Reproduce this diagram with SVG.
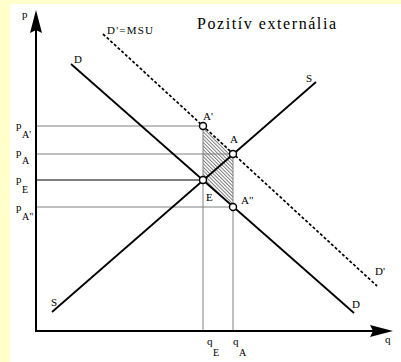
<svg xmlns="http://www.w3.org/2000/svg" width="401" height="362" viewBox="0 0 401 362">
<defs>
<style>
text{font-family:"Liberation Serif","Times New Roman",serif;fill:#000}
.lbl{font-size:11px}
.sub{font-size:10px}
.curve{stroke:#000;stroke-width:1.8;fill:none}
.dash{stroke:#000;stroke-width:1.7;fill:none;stroke-dasharray:3 2}
.guide{stroke:#808080;stroke-width:1;fill:none}
.axis{stroke:#000;stroke-width:2;fill:none}
.pt{fill:#fff;stroke:#000;stroke-width:1.4}
</style>
<pattern id="hatch" patternUnits="userSpaceOnUse" width="2.5" height="2.5" patternTransform="rotate(-45)">
<line x1="0.5" y1="0" x2="0.5" y2="2.5" stroke="#707070" stroke-width="0.9"/>
</pattern>
</defs>
<rect x="0" y="0" width="401" height="362" fill="#FFFFCC"/>
<rect x="10" y="4" width="391" height="358" fill="#fff"/>

<g id="hatched-area">
<polygon points="203,126 233,154 233,207 203,180" fill="url(#hatch)"/>
</g>

<g id="connectors">
<line class="guide" x1="36" y1="126" x2="203" y2="126"/>
<line class="guide" x1="36" y1="154" x2="233" y2="154"/>
<line x1="36" y1="180" x2="203" y2="180" stroke="#000" stroke-width="1"/>
<line class="guide" x1="36" y1="207" x2="233" y2="207"/>
<line class="guide" x1="203" y1="126" x2="203" y2="331"/>
<line class="guide" x1="233" y1="154" x2="233" y2="331"/>
<line class="curve" x1="71" y1="64" x2="354" y2="313"/>
<line class="dash" x1="103" y1="34" x2="377" y2="286"/>
<line class="curve" x1="52" y1="312" x2="316" y2="82"/>
<polyline class="axis" points="36,28 36,331 376,331"/>
<polygon points="36,10 42,33 36,30 30,33" fill="#000"/>
<polygon points="393,331 370,337 373,331 370,325" fill="#000"/>
</g>

<g id="title"><text x="197" y="29" font-size="16" textLength="139" lengthAdjust="spacing">Pozitív externália</text></g>
<g id="axis-p"><text class="lbl" x="22" y="18">p</text></g>
<g id="axis-q"><text class="lbl" x="385" y="343">q</text></g>

<g id="curve-D"><text class="lbl" x="74" y="63">D</text><text class="lbl" x="352" y="308">D</text></g>
<g id="curve-Dprime"><text class="lbl" x="107" y="34" textLength="46" lengthAdjust="spacing">D'=MSU</text><text class="lbl" x="375" y="275">D'</text></g>
<g id="curve-S"><text class="lbl" x="306" y="82">S</text><text class="lbl" x="51" y="306">S</text></g>

<g id="point-Aprime"><circle class="pt" cx="203" cy="126" r="3.5"/><text class="lbl" x="203" y="120">A'</text></g>
<g id="point-A"><circle class="pt" cx="233" cy="154" r="3.5"/><text class="lbl" x="230" y="143">A</text></g>
<g id="point-E"><circle class="pt" cx="203" cy="180" r="3.5"/><text class="lbl" x="206" y="201">E</text></g>
<g id="point-Adprime"><circle class="pt" cx="233" cy="207" r="3.5"/><text class="lbl" x="241" y="204">A"</text></g>

<g id="label-pAprime"><text class="lbl" x="16" y="129">p</text><text class="sub" x="22" y="138">A'</text></g>
<g id="label-pA"><text class="lbl" x="16" y="156">p</text><text class="sub" x="22" y="164">A</text></g>
<g id="label-pE"><text class="lbl" x="16" y="183">p</text><text class="sub" x="22" y="193">E</text></g>
<g id="label-pAdprime"><text class="lbl" x="16" y="211">p</text><text class="sub" x="22" y="220">A"</text></g>
<g id="label-qE"><text class="lbl" x="207" y="345">q</text><text class="sub" x="213" y="356">E</text></g>
<g id="label-qA"><text class="lbl" x="233" y="345">q</text><text class="sub" x="239" y="356">A</text></g>
</svg>
